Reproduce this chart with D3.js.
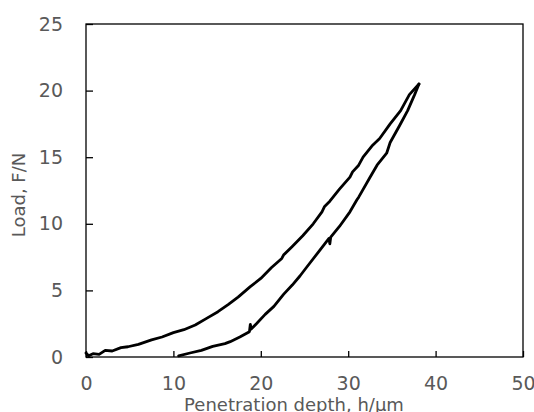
<!DOCTYPE html>
<html>
<head>
<meta charset="utf-8">
<script src="https://cdn.jsdelivr.net/npm/d3@7"></script>
<style>
  body { margin: 0; background: #fff; }
  svg { display: block; }
</style>
</head>
<body>
<div id="chart"></div>
<script>
// Load-displacement data (h in µm, F in N)
const loadDepth = [0, 0.3, 0.8, 1.5, 2.2, 3.0, 4.0, 4.8, 6.0, 7.5, 8.7, 10.0, 11.2, 12.5, 13.8, 15.1, 16.3, 17.4, 18.8, 20.0,
    21.2, 22.4, 22.6, 23.6, 24.8, 26.0, 27.0, 27.3, 27.9, 29.0, 30.2, 30.5, 31.2, 31.7, 32.8, 33.6, 34.8, 36.0, 37.0, 38.1];
const loadForce = [0.3, 0.1, 0.25, 0.2, 0.5, 0.45, 0.7, 0.77, 0.95, 1.28, 1.5, 1.83, 2.05, 2.4, 2.9, 3.4, 3.95, 4.5, 5.28, 5.9,
    6.7, 7.4, 7.65, 8.3, 9.1, 10.0, 10.9, 11.3, 11.7, 12.6, 13.5, 13.9, 14.4, 15.0, 15.9, 16.4, 17.5, 18.5, 19.7, 20.5];

const unloadDepth = [38.1, 37.6, 36.8, 35.9, 34.8, 34.4, 33.3, 32.5, 31.2, 31.0, 30.2, 29.0, 28.0, 27.9, 27.8, 26.5, 25.2,
    24.5, 23.6, 22.6, 21.5, 20.5, 19.5, 18.9, 18.8, 18.7, 17.6, 16.5, 15.9, 14.5, 13.2, 11.9, 10.6];
const unloadForce = [20.5, 19.7, 18.5, 17.4, 16.1, 15.3, 14.4, 13.5, 12.0, 11.8, 10.9, 9.8, 9.0, 8.5, 8.9, 7.8, 6.7,
    6.1, 5.4, 4.7, 3.8, 3.2, 2.5, 2.1, 2.45, 1.9, 1.5, 1.15, 1.0, 0.8, 0.5, 0.3, 0.08];

const xTicks = [0, 10, 20, 30, 40, 50];
const yTicks = [0, 5, 10, 15, 20, 25];

const svgWidth = 534;
const svgHeight = 412;
const margin = {top: 24, right: 11, bottom: 55, left: 86};
const width = svgWidth - margin.left - margin.right;
const height = svgHeight - margin.top - margin.bottom;
const textColor = '#595959';
const font = 'Verdana, "DejaVu Sans", sans-serif';

const svg = d3.select('#chart').append('svg')
    .attr('width', svgWidth)
    .attr('height', svgHeight);

const g = svg.append('g')
    .attr('transform', `translate(${margin.left},${margin.top})`);

const x = d3.scaleLinear().domain([0, 50]).range([0, width]);
const y = d3.scaleLinear().domain([0, 25]).range([height, 0]);

// axes with inward ticks
const xAxis = g.append('g')
    .attr('transform', `translate(0,${height})`)
    .call(d3.axisBottom(x).tickValues(xTicks).tickSizeInner(-6).tickSizeOuter(0).tickPadding(20));
const yAxis = g.append('g')
    .call(d3.axisLeft(y).tickValues(yTicks).tickSizeInner(-7).tickSizeOuter(0).tickPadding(23));

[xAxis, yAxis].forEach(ax => {
    ax.select('.domain').remove();
    ax.selectAll('line').attr('stroke', '#000').attr('stroke-width', 1.3);
    ax.selectAll('text')
        .attr('fill', textColor)
        .style('font-family', font)
        .style('font-size', '19px');
});

// plot frame
g.append('rect')
    .attr('width', width)
    .attr('height', height)
    .attr('fill', 'none')
    .attr('stroke', '#000')
    .attr('stroke-width', 1.3);

const line = d3.line()
    .x(d => x(d[0]))
    .y(d => y(d[1]));

const loading = loadDepth.map((h, i) => [h, loadForce[i]]);
const unloading = unloadDepth.map((h, i) => [h, unloadForce[i]]);

[loading, unloading].forEach(pts => {
    g.append('path')
        .datum(pts)
        .attr('d', line)
        .attr('fill', 'none')
        .attr('stroke', '#000')
        .attr('stroke-width', 2.8)
        .attr('stroke-linejoin', 'round')
        .attr('stroke-linecap', 'round');
});

// axis titles
svg.append('text')
    .attr('x', 294)
    .attr('y', 411)
    .attr('text-anchor', 'middle')
    .attr('fill', textColor)
    .style('font-family', font)
    .style('font-size', '18px')
    .text('Penetration depth, h/μm');

svg.append('text')
    .attr('transform', 'translate(25,195) rotate(-90)')
    .attr('text-anchor', 'middle')
    .attr('fill', textColor)
    .style('font-family', font)
    .style('font-size', '18px')
    .text('Load, F/N');
</script>
</body>
</html>
